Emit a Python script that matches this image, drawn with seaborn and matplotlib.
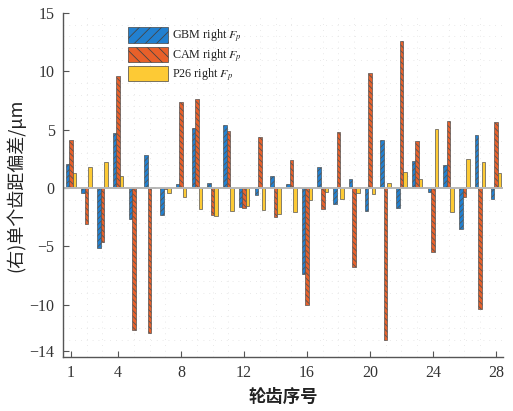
import matplotlib
matplotlib.use("Agg")
import matplotlib.pyplot as plt
import seaborn as sns
import pandas as pd
import numpy as np

teeth = list(range(1, 29))
gbm = [2.03, -0.4, -5.19, 4.7, -2.64, 2.84, -2.29, 0.32, 5.16, 0.46,
       5.39, -1.63, -0.57, 1.0, 0.32, -7.39, 1.78, -1.35, 0.8, -1.98,
       4.1, -1.69, 2.35, -0.32, 1.95, -3.52, 4.58, -0.97]
cam = [4.15, -3.07, -4.61, 9.57, -12.2, -12.44, -0.1, 7.39, 7.59, -2.29,
       4.84, -1.72, 4.33, -2.49, 2.38, -10.0, -1.78, 4.79, -6.82, 9.83,
       -13.0, 12.64, 4.04, -5.47, 5.7, -0.77, -10.4, 5.62]
p26 = [1.32, 1.8, 2.18, 1.0, 0.05, 0.05, -0.4, -0.74, -1.8, -2.43,
       -2.0, -1.52, -1.92, -2.2, -2.03, -1.0, -0.34, -0.92, -0.4, -0.49,
       0.46, 1.38, 0.8, 5.01, -2.03, 2.46, 2.18, 1.32]
series_names = ["GBM right $F_p$", "CAM right $F_p$", "P26 right $F_p$"]
xtick_labels = [1, 4, 8, 12, 16, 20, 24, 28]
yticks = [-14, -10, -5, 0, 5, 10, 15]

df = pd.DataFrame({
    "tooth": teeth * 3,
    "value": gbm + cam + p26,
    "series": [series_names[0]] * 28 + [series_names[1]] * 28 + [series_names[2]] * 28,
})

sns.set_style("white")
plt.rcParams['font.family'] = ['Liberation Serif', 'Noto Sans CJK SC', 'DejaVu Sans']
plt.rcParams['mathtext.fontset'] = 'stix'
plt.rcParams['hatch.linewidth'] = 0.6

colors = ["#2180d0", "#e8602a", "#fdca35"]
hatches = ["//////", "\\\\\\\\\\\\", ""]

fig = plt.figure(figsize=(5.13, 4.11), dpi=100)
ax = fig.add_axes([63/513, 1 - 357/411, 440/513, 344/411])

sns.barplot(data=df, x="tooth", y="value", hue="series", order=teeth,
            hue_order=series_names, palette=colors, width=0.67, saturation=1,
            edgecolor="#555555", linewidth=0.5, ax=ax, legend=True)

for cont, h in zip(ax.containers, hatches):
    for bar in cont:
        bar.set_hatch(h)

# faint dotted grid at every unit
ax.set_xticks(np.arange(0, 28), minor=True)
ax.set_yticks(np.arange(-14, 16), minor=True)
ax.grid(which="minor", linestyle=(0, (1, 6)), color="#e2e2e2", linewidth=0.6)
ax.set_axisbelow(True)

ax.axhline(0, color="#b8b8b8", linewidth=1.4, zorder=1.5)

ax.set_xticks([t - 1 for t in xtick_labels])
ax.set_xticklabels([str(t) for t in xtick_labels])
ax.set_yticks(yticks)
ax.set_yticklabels([str(v).replace("-", "\u2212") for v in yticks])
ax.set_xlim(-0.5, 27.45)
ax.set_ylim(-14.5, 15)

ax.tick_params(axis="both", which="major", direction="in", length=4, width=0.8,
               bottom=True, left=True,
               color="#555555", labelsize=11.5, labelcolor="#333333", pad=6)
ax.tick_params(axis="both", which="minor", length=0)

for s in ["top", "right"]:
    ax.spines[s].set_visible(False)
for s in ["left", "bottom"]:
    ax.spines[s].set_color("#555555")
    ax.spines[s].set_linewidth(1.0)

ax.set_xlabel("轮齿序号", fontsize=12.5, fontweight="bold",
              family=['Noto Sans CJK SC'], color="#222222", labelpad=5)
ax.set_ylabel("(右)单个齿距偏差/μm", fontsize=13,
              family=['Noto Sans CJK SC', 'DejaVu Sans'], color="#222222", labelpad=3)

handles, labels = ax.get_legend_handles_labels()
for hd, h in zip(handles, hatches):
    hd.set_hatch(h[:3])
    hd.set_edgecolor("#444444")
leg = ax.legend(handles, labels, loc="upper left", bbox_to_anchor=(0.148, 0.958),
                frameon=False, fontsize=8.7, handlelength=3.3, handleheight=1.55,
                handletextpad=0.3, labelspacing=0.2, borderaxespad=0, borderpad=0)
for t in leg.get_texts():
    t.set_color("#222222")

fig.savefig("out.png", dpi=100)
